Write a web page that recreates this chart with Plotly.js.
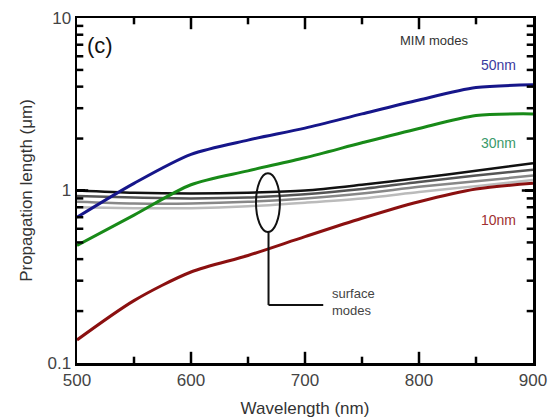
<!DOCTYPE html>
<html><head><meta charset="utf-8">
<script src="https://cdn.plot.ly/plotly-3.0.1.min.js"></script>
<style>html,body{margin:0;padding:0;background:#fff}#plot{width:553px;height:418px}</style>
</head><body><div id="plot"></div>
<script>
const wavelength = [500, 550, 600, 650, 700, 750, 800, 850, 900];
const mim50 = [0.70, 1.10, 1.62, 1.96, 2.30, 2.78, 3.35, 3.95, 4.10];
const mim30 = [0.48, 0.72, 1.08, 1.30, 1.55, 1.89, 2.29, 2.72, 2.78];
const mim10 = [0.136, 0.23, 0.337, 0.42, 0.54, 0.69, 0.86, 1.02, 1.10];
const surf1 = [1.00, 0.97, 0.96, 0.97, 1.00, 1.08, 1.18, 1.30, 1.44];
const surf2 = [0.93, 0.91, 0.90, 0.91, 0.95, 1.02, 1.12, 1.22, 1.32];
const surf3 = [0.86, 0.84, 0.84, 0.86, 0.90, 0.96, 1.05, 1.13, 1.22];
const surf4 = [0.80, 0.79, 0.79, 0.81, 0.85, 0.90, 0.98, 1.06, 1.15];
const xTicks = [500, 600, 700, 800, 900];
const xMinor = [550, 650, 750, 850];
const yTicks = [0.1, 1, 10];
const yMinor = [0.2, 0.3, 0.4, 0.5, 0.6, 0.7, 0.8, 0.9, 2, 3, 4, 5, 6, 7, 8, 9];

const FAM = 'Liberation Sans, Arial, sans-serif';
const surfColors = ['#bbbbbb', '#888888', '#555555', '#111111'];
const surfData = [surf4, surf3, surf2, surf1];
const traces = [];
surfData.forEach((s, i) => traces.push({x: wavelength, y: s, mode: 'lines', line: {color: surfColors[i], width: 2.5, shape: 'spline', smoothing: 0.8}}));
traces.push({x: wavelength, y: mim10, mode: 'lines', line: {color: '#8b1010', width: 3, shape: 'spline', smoothing: 0.8}});
traces.push({x: wavelength, y: mim30, mode: 'lines', line: {color: '#188a18', width: 3, shape: 'spline', smoothing: 0.8}});
traces.push({x: wavelength, y: mim50, mode: 'lines', line: {color: '#16168a', width: 3, shape: 'spline', smoothing: 0.8}});

// inward tick marks: markers centred on the frame, the outer half clipped away by the plot area
function tickTrace(xs, ys, symbol, size) {
  return {x: xs, y: ys, mode: 'markers', cliponaxis: true,
    marker: {symbol: symbol, size: size, color: '#000', line: {color: '#000', width: 2.5}}};
}
const innerX = xTicks.slice(1, -1);
const innerY = yTicks.slice(1, -1);
const xEnds = [xTicks[0], xTicks[xTicks.length - 1]];
const yEnds = [yTicks[0], yTicks[yTicks.length - 1]];
[yEnds[0], yEnds[1]].forEach(yv => {
  traces.push(tickTrace(innerX, innerX.map(() => yv), 'line-ns', 16));
  traces.push(tickTrace(xMinor, xMinor.map(() => yv), 'line-ns', 9));
});
[xEnds[0], xEnds[1]].forEach(xv => {
  traces.push(tickTrace(innerY.map(() => xv), innerY, 'line-ew', 16));
  traces.push(tickTrace(yMinor.map(() => xv), yMinor, 'line-ew', 9));
});

const layout = {
  width: 553, height: 418,
  margin: {l: 77, r: 20, t: 18, b: 55},
  showlegend: false,
  xaxis: {
    range: [500, 900], tick0: 500, dtick: 100, ticks: 'inside', ticklen: 8, tickwidth: 2.5, tickcolor: '#000',
    showline: true, linewidth: 2.5, linecolor: '#000', mirror: 'ticks', showgrid: false,
    tickfont: {family: FAM, size: 17, color: '#444'},
    title: {text: 'Wavelength (nm)', font: {family: FAM, size: 17, color: '#333'}}
  },
  yaxis: {
    type: 'log', range: [-1, 1], dtick: 1, ticks: 'inside', ticklen: 8, tickwidth: 2.5, tickcolor: '#000',
    showline: true, linewidth: 2.5, linecolor: '#000', mirror: 'ticks', showgrid: false,
    tickfont: {family: FAM, size: 17, color: '#444'},
    title: {text: 'Propagation length (μm)', font: {family: FAM, size: 17, color: '#333'}}
  },
  shapes: [
    {type: 'circle', xref: 'x', yref: 'y', x0: 657, x1: 678, y0: 0.575, y1: 1.26, line: {color: '#111', width: 2}},
    {type: 'line', xref: 'x', yref: 'y', x0: 668, x1: 668, y0: 0.575, y1: 0.217, line: {color: '#111', width: 2}},
    {type: 'line', xref: 'x', yref: 'y', x0: 668, x1: 716, y0: 0.217, y1: 0.217, line: {color: '#111', width: 2}}
  ],
  annotations: [
    {text: '(c)', x: 507, y: 0.843, xref: 'x', yref: 'y', xanchor: 'left', yanchor: 'middle', showarrow: false, font: {family: FAM, size: 22, color: '#111'}},
    {text: 'MIM modes', x: 845, y: 0.872, xref: 'x', yref: 'y', xanchor: 'right', yanchor: 'middle', showarrow: false, font: {family: FAM, size: 13, color: '#333'}},
    {text: '50nm', x: 887, y: 0.727, xref: 'x', yref: 'y', xanchor: 'right', yanchor: 'middle', showarrow: false, font: {family: FAM, size: 14, color: '#3a3aa0'}},
    {text: '30nm', x: 887, y: 0.275, xref: 'x', yref: 'y', xanchor: 'right', yanchor: 'middle', showarrow: false, font: {family: FAM, size: 14, color: '#3a9a6a'}},
    {text: '10nm', x: 887, y: -0.171, xref: 'x', yref: 'y', xanchor: 'right', yanchor: 'middle', showarrow: false, font: {family: FAM, size: 14, color: '#a03030'}},
    {text: 'surface<br>modes', x: 722, y: -0.646, xref: 'x', yref: 'y', xanchor: 'left', yanchor: 'middle', align: 'left', showarrow: false, font: {family: FAM, size: 13, color: '#444'}}
  ]
};
Plotly.newPlot('plot', traces, layout, {staticPlot: true});
</script></body></html>
